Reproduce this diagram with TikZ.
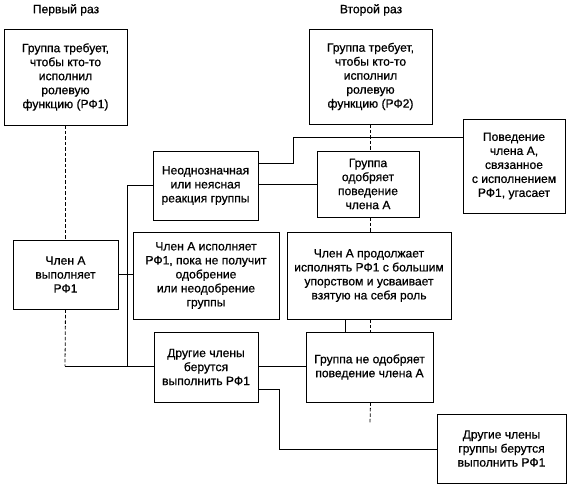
\documentclass[tikz,border=0pt]{standalone}
\usepackage{fontspec}
\setmainfont{Liberation Sans}[FakeBold=0.7]
\begin{document}
\begin{tikzpicture}[x=1pt,y=-1pt,
  box/.style={draw, line width=0.9pt, inner sep=0pt, align=center, font=\fontsize{12.1}{14}\selectfont},
  ttl/.style={font=\fontsize{12.1}{14}\selectfont},
  ln/.style={line width=0.9pt},
  dsh/.style={line width=0.8pt, dash pattern=on 3.5pt off 2pt}]
\useasboundingbox (0,0) rectangle (570,488);
\node[ttl] (t1) at (66,10) {Первый раз};
\node[ttl] (t2) at (371,10) {Второй раз};
\node[box, minimum width=123, minimum height=96] (b1) at (65.5,77) {Группа требует,\\чтобы кто-то\\исполнил\\ролевую\\функцию (РФ1)};
\node[box, minimum width=123, minimum height=95] (b2) at (370.5,76.5) {Группа требует,\\чтобы кто-то\\исполнил\\ролевую\\функцию (РФ2)};
\node[box, minimum width=105, minimum height=69] (amb) at (205.5,185.5) {Неоднозначная\\или неясная\\реакция группы};
\node[box, minimum width=102, minimum height=66] (appr) at (368,184) {Группа\\одобряет\\поведение\\члена А};
\node[box, minimum width=102, minimum height=94] (fade) at (514,166) {Поведение\\члена А,\\связанное\\с исполнением\\РФ1, угасает};
\node[box, minimum width=105, minimum height=69] (memA) at (65.5,274.5) {Член А\\выполняет\\РФ1};
\node[box, minimum width=146, minimum height=87] (perf) at (206,275.5) {Член А исполняет\\РФ1, пока не получит\\одобрение\\или неодобрение\\группы};
\node[box, minimum width=164, minimum height=87] (cont) at (369,275.5) {Член А продолжает\\исполнять РФ1 с большим\\упорством и усваивает\\взятую на себя роль};
\node[box, minimum width=104, minimum height=70] (oth) at (206,367) {Другие члены\\берутся\\выполнить РФ1};
\node[box, minimum width=127, minimum height=70] (dis) at (369.5,367) {Группа не одобряет\\поведение члена А};
\node[box, minimum width=129, minimum height=69] (oth2) at (501.5,448.5) {Другие члены\\группы берутся\\выполнить РФ1};
% coordinates
\coordinate (vj) at (127,366);
\coordinate (m1) at (65,366);
\coordinate (a1) at (258,163);
\coordinate (a2) at (293,163);
\coordinate (a3) at (293,137);
\coordinate (f1) at (463,137);
\coordinate (o1) at (258,389);
\coordinate (o2) at (279,389);
\coordinate (o3) at (279,449);
\coordinate (c1) at (345,319);
\coordinate (d1) at (370,423);
% dashed
\draw[dsh] (b1.south) -- (b1.south |- memA.north);
\draw[dsh] (memA.south) -- (m1);
\draw[dsh] (b2.south) -- (b2.south |- appr.north);
\draw[dsh] (b2.south |- appr.south) -- (b2.south |- cont.north);
\draw[dsh] (b2.south |- cont.south) -- (b2.south |- dis.north);
\draw[dsh] (b2.south |- dis.south) -- (d1);
% solid
\draw[ln] (m1) -- (m1 -| oth.west);
\draw[ln] (amb.west) -| (vj);
\draw[ln] (a1) -- (a2) -- (a3) -- (f1);
\draw[ln] (amb.east |- appr.west) -- (appr.west);
\draw[ln] (memA.east) -- (memA.east -| perf.west);
\draw[ln] (c1) -- (c1 |- dis.north);
\draw[ln] (m1 -| oth.east) -- (m1 -| dis.west);
\draw[ln] (o1) -- (o2) -- (o3) -- (o3 -| oth2.west);
\end{tikzpicture}
\end{document}
